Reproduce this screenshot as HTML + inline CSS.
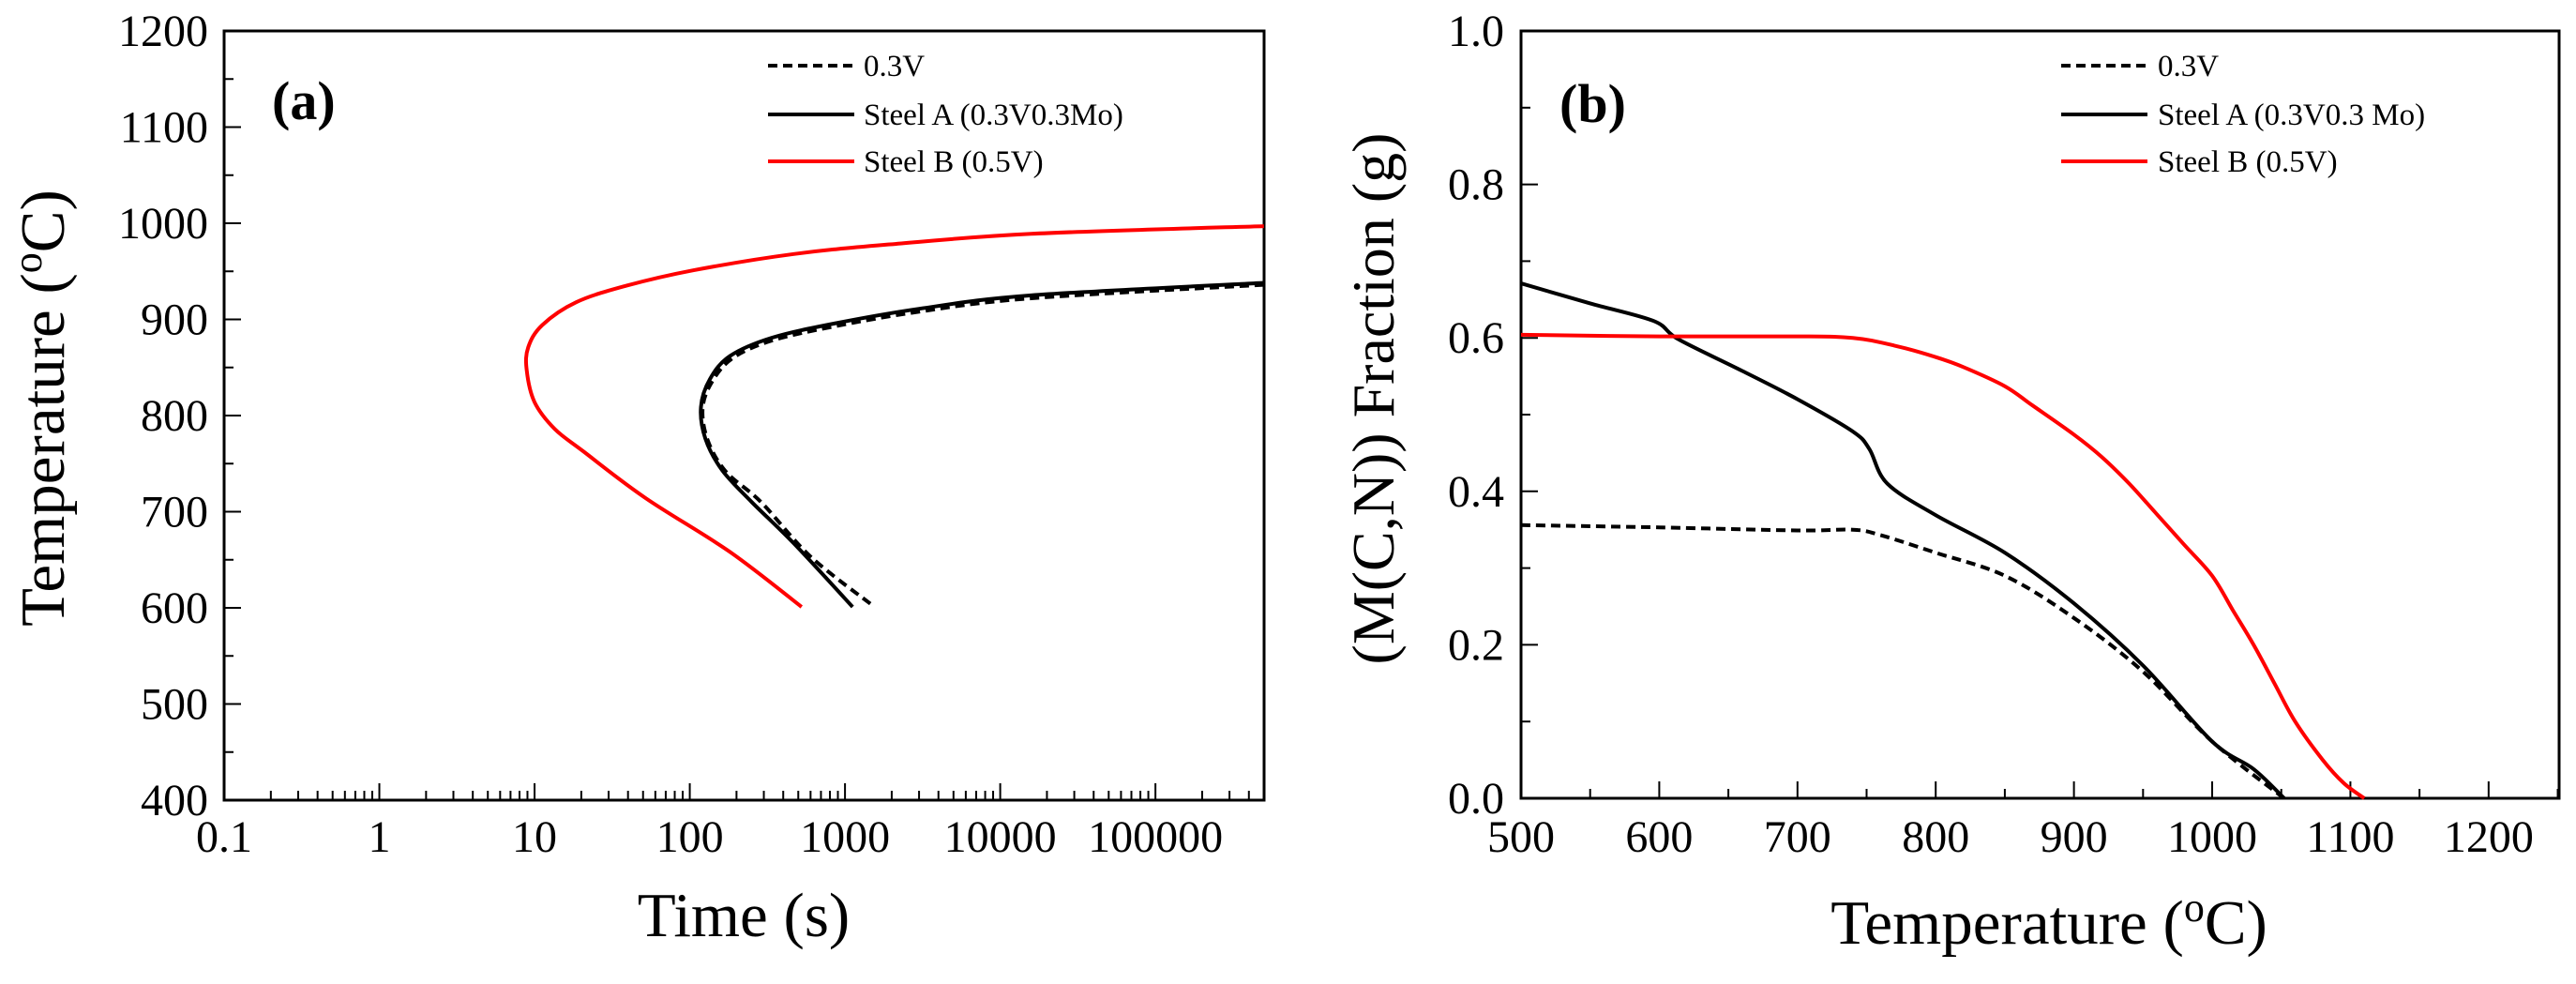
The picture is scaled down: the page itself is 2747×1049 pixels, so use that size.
<!DOCTYPE html>
<html><head><meta charset="utf-8"><style>
html,body{margin:0;padding:0;background:#fff;}
svg{display:block;font-family:"Liberation Serif",serif;}
</style></head><body>
<svg id="chart" width="2747" height="1049" viewBox="0 0 2747 1049" xmlns="http://www.w3.org/2000/svg">
<g id="pa"></g>
<g id="pb"></g>
</svg>
<script>
// Panel (a) data
const aRedTime = [500000,15800,1950,468,105,39,18.6,11.2,9.1,8.9,10,13.5,20.9,52,182,525];
const aRedTemp = [997,989,978,968,951,935,918,894,871,847,814,786,762,714,658,601];
const aSolidTime = [500000,15800,3000,870,339,182,135,118,126,162,251,468,1120];
const aSolidTemp = [938,925,911,896,881,862,838,809,776,743,710,667,601];
const aDashTime = [500000,15800,3000,870,339,190,140,121,130,170,288,603,1550];
const aDashTemp = [936,922,908,893,878,860,836,808,775,742,710,653,601];
const aXTicks = [0.1,1,10,100,1000,10000,100000];
const aXLabels = ["0.1","1","10","100","1000","10000","100000"];
const aYTicks = [400,500,600,700,800,900,1000,1100,1200];
// Panel (b) data
const bSolidT = [500,550,596,614,660,700,740,752,765,800,850,900,950,1000,1030,1052];
const bSolidF = [0.671,0.645,0.622,0.598,0.557,0.52,0.478,0.455,0.41,0.369,0.32,0.254,0.173,0.074,0.038,0];
const bDashT = [500,600,700,740,760,800,850,900,950,1000,1052];
const bDashF = [0.356,0.353,0.349,0.35,0.343,0.32,0.29,0.235,0.165,0.074,0];
const bRedT = [500,600,700,740,770,800,820,850,870,900,920,940,960,980,1000,1015,1030,1045,1060,1080,1095,1110];
const bRedF = [0.604,0.602,0.602,0.6,0.59,0.575,0.562,0.537,0.512,0.474,0.445,0.41,0.37,0.33,0.29,0.245,0.2,0.15,0.1,0.05,0.02,0];
const bXTicks = [500,600,700,800,900,1000,1100,1200];
const bYTicks = [0.0,0.2,0.4,0.6,0.8,1.0];

const NS="http://www.w3.org/2000/svg";
function mk(parent,tag,attrs,text){const e=document.createElementNS(NS,tag);for(const k in attrs)e.setAttribute(k,attrs[k]);if(text!==undefined)e.textContent=text;parent.appendChild(e);return e;}
function smooth(pts){let d='M'+pts[0][0].toFixed(1)+','+pts[0][1].toFixed(1);
 for(let i=0;i<pts.length-1;i++){const p0=pts[Math.max(0,i-1)],p1=pts[i],p2=pts[i+1],p3=pts[Math.min(pts.length-1,i+2)];
  const c1=[p1[0]+(p2[0]-p0[0])/6,p1[1]+(p2[1]-p0[1])/6],c2=[p2[0]-(p3[0]-p1[0])/6,p2[1]-(p3[1]-p1[1])/6];
  d+=' C'+c1[0].toFixed(1)+','+c1[1].toFixed(1)+' '+c2[0].toFixed(1)+','+c2[1].toFixed(1)+' '+p2[0].toFixed(1)+','+p2[1].toFixed(1);}
 return d;}
function path(parent,xs,ys,fx,fy,color,dash,name){const pts=xs.map((v,i)=>[fx(v),fy(ys[i])]);
 const p=mk(parent,'path',{d:smooth(pts),fill:'none',stroke:color,'stroke-width':4,'stroke-dasharray':dash||'none','stroke-linejoin':'round'});
 
 }
function legend(parent,x0,tx,labels,name){
 const cols=['#000','#000','#ff0000'],dashes=['10,6','none','none'],ys=[70,122,172];
 labels.forEach((lab,i)=>{const l=mk(parent,'line',{x1:x0,y1:ys[i],x2:x0+92,y2:ys[i],stroke:cols[i],'stroke-width':4,'stroke-dasharray':dashes[i]});
  
  
  const t=mk(parent,'text',{x:tx,y:ys[i]+11,'font-size':33},lab);
  
  });
}

// ---------- Panel A ----------
const A={l:239,r:1348,t:33,b:853,xmin:-1,xmax:5.70,ymin:400,ymax:1200};
const ax=v=>A.l+(Math.log10(v)-A.xmin)/(A.xmax-A.xmin)*(A.r-A.l);
const ay=v=>A.b-(v-A.ymin)/(A.ymax-A.ymin)*(A.b-A.t);
const pa=document.getElementById('pa');
let r=mk(pa,'rect',{x:A.l,y:A.t,width:A.r-A.l,height:A.b-A.t,fill:'none',stroke:'#000','stroke-width':3});


for(let d=-1;d<=5;d++){for(let m=1;m<=9;m++){const v=m*Math.pow(10,d);const x=ax(v);if(x>A.r-1)continue;const len=m===1?18:10;
 const t=mk(pa,'line',{x1:x,y1:A.b,x2:x,y2:A.b-len,stroke:'#000','stroke-width':2});
 
 }}
aXTicks.forEach((v,i)=>{const t=mk(pa,'text',{x:ax(v),y:908,'font-size':48,'text-anchor':'middle'},aXLabels[i]);
 
 });
for(let v=400;v<=1200;v+=50){const y=ay(v);const len=v%100===0?18:10;
 const t=mk(pa,'line',{x1:A.l,y1:y,x2:A.l+len,y2:y,stroke:'#000','stroke-width':2});
 
 }
aYTicks.forEach(v=>{const t=mk(pa,'text',{x:222,y:ay(v)+16,'font-size':48,'text-anchor':'end'},String(v));
 
 });
path(pa,aDashTime,aDashTemp,ax,ay,'#000','10,6','series-0.3v-a');
path(pa,aSolidTime,aSolidTemp,ax,ay,'#000',null,'series-steel-a-a');
path(pa,aRedTime,aRedTemp,ax,ay,'#ff0000',null,'series-steel-b-a');
legend(pa,819,921,['0.3V','Steel A (0.3V0.3Mo)','Steel B (0.5V)'],'legend-a');
let lab=mk(pa,'text',{x:290,y:127,'font-size':58,'font-weight':'bold'},'(a)');


let xt=mk(pa,'text',{x:793,y:998,'font-size':67,'text-anchor':'middle'},'Time (s)');


let yt=mk(pa,'text',{x:0,y:0,'font-size':67,'text-anchor':'middle',transform:'translate(68,435) rotate(-90)'});


yt.innerHTML='Temperature (<tspan font-size="44" dy="-24">o</tspan><tspan dy="24">C)</tspan>';

// ---------- Panel B ----------
const B={l:1622,r:2729,t:33,b:851,xmin:500,xmax:1251,ymin:0,ymax:1};
const bx=v=>B.l+(v-B.xmin)/(B.xmax-B.xmin)*(B.r-B.l);
const by=v=>B.b-(v-B.ymin)/(B.ymax-B.ymin)*(B.b-B.t);
const pb=document.getElementById('pb');
r=mk(pb,'rect',{x:B.l,y:B.t,width:B.r-B.l,height:B.b-B.t,fill:'none',stroke:'#000','stroke-width':3});


for(let v=500;v<=1250;v+=50){const x=bx(v);const len=v%100===0?18:10;
 const t=mk(pb,'line',{x1:x,y1:B.b,x2:x,y2:B.b-len,stroke:'#000','stroke-width':2});
 
 }
bXTicks.forEach(v=>{const t=mk(pb,'text',{x:bx(v),y:908,'font-size':48,'text-anchor':'middle'},String(v));
 
 });
for(let k=0;k<=10;k++){const v=k/10;const y=by(v);const len=k%2===0?18:10;
 const t=mk(pb,'line',{x1:B.l,y1:y,x2:B.l+len,y2:y,stroke:'#000','stroke-width':2});
 
 }
bYTicks.forEach(v=>{const t=mk(pb,'text',{x:1604,y:by(v)+16,'font-size':48,'text-anchor':'end'},v.toFixed(1));
 
 });
path(pb,bDashT,bDashF,bx,by,'#000','10,6','series-0.3v-b');
path(pb,bSolidT,bSolidF,bx,by,'#000',null,'series-steel-a-b');
path(pb,bRedT,bRedF,bx,by,'#ff0000',null,'series-steel-b-b');
legend(pb,2198,2301,['0.3V','Steel A (0.3V0.3 Mo)','Steel B (0.5V)'],'legend-b');
lab=mk(pb,'text',{x:1663,y:130,'font-size':58,'font-weight':'bold'},'(b)');


xt=mk(pb,'text',{x:2185,y:1006,'font-size':67,'text-anchor':'middle'});


xt.innerHTML='Temperature (<tspan font-size="44" dy="-24">o</tspan><tspan dy="24">C)</tspan>';
yt=mk(pb,'text',{x:0,y:0,'font-size':64,'text-anchor':'middle',transform:'translate(1486,425) rotate(-90)'},'(M(C,N)) Fraction (g)');


</script>
</body></html>
